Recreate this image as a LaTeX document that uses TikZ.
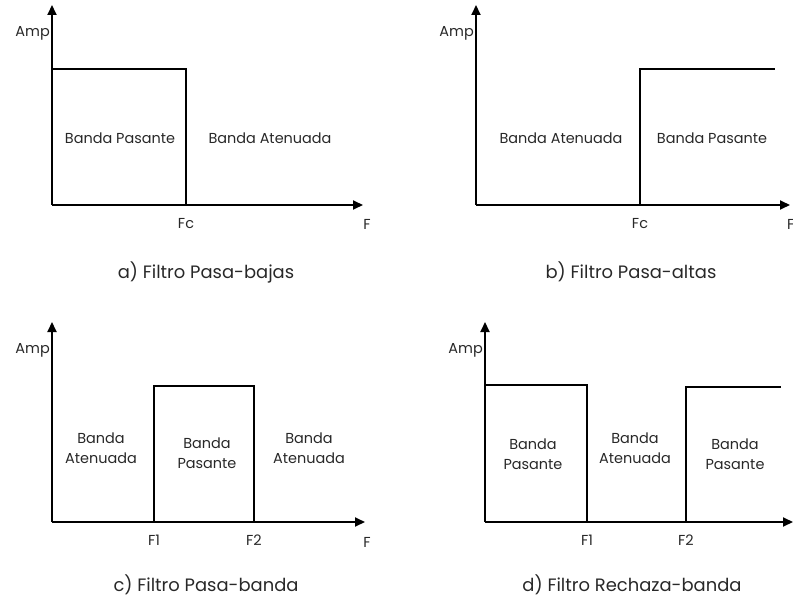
\documentclass[tikz,border=0pt]{standalone}
\usepackage{fontspec}
\setmainfont{Poppins}
\usetikzlibrary{arrows.meta,positioning}
\definecolor{txtgray}{RGB}{40,40,40}
\tikzset{
  axis/.style={-{Triangle[length=10bp,width=9bp]}, line width=1.9bp},
  resp/.style={line width=1.9bp, line join=miter},
  lbl/.style={font=\fontsize{14.5}{20.5}\selectfont, text=txtgray, align=center, inner sep=0pt},
  captxt/.style={font=\fontsize{18}{22}\selectfont, text=txtgray, inner sep=0pt},
}

\begin{document}
\begin{tikzpicture}[x=1bp, y=-1bp]
  \useasboundingbox (0,0) rectangle (793,600);

  % a) pasa-bajas
  \coordinate (oa) at (52,205);
  \coordinate (ya) at (52,5);
  \coordinate (xa) at (363,205);
  \coordinate (fca) at (186,205);
  \draw[axis] (oa) -- (ya);
  \draw[axis] (oa) -- (xa);
  \draw[resp] (52,69) -| (fca);
  \node[lbl, anchor=east] (ampa) at (50,33) {Amp};
  \node[lbl, below=13bp of fca] (fclbla) {Fc};
  \node[lbl] (fa) at (367,224) {F};
  \node[lbl] (pasa) at (120,138) {Banda Pasante};
  \node[lbl] (atea) at (270,138) {Banda Atenuada};
  \node[captxt] (capa) at (206,272) {a) Filtro Pasa-bajas};

  % b) pasa-altas
  \coordinate (ob) at (476,205);
  \coordinate (yb) at (476,5);
  \coordinate (xb) at (790,205);
  \coordinate (fcb) at (640,205);
  \draw[axis] (ob) -- (yb);
  \draw[axis] (ob) -- (xb);
  \draw[resp] (fcb) |- (775,69);
  \node[lbl, anchor=east] (ampb) at (474,33) {Amp};
  \node[lbl, below=13bp of fcb] (fclblb) {Fc};
  \node[lbl, anchor=west] (fb) at (787,224) {F};
  \node[lbl] (ateb) at (561,138) {Banda Atenuada};
  \node[lbl] (pasb) at (712,138) {Banda Pasante};
  \node[captxt] (capb) at (631,272) {b) Filtro Pasa-altas};

  % c) pasa-banda
  \coordinate (oc) at (52,522);
  \coordinate (yc) at (52,322);
  \coordinate (xc) at (365,522);
  \coordinate (f1c) at (154,522);
  \coordinate (f2c) at (254,522);
  \draw[axis] (oc) -- (yc);
  \draw[axis] (oc) -- (xc);
  \draw[resp] (f1c) |- (254,386) -- (f2c);
  \node[lbl, anchor=east] (ampc) at (50,350) {Amp};
  \node[lbl, below=13bp of f1c] (f1lblc) {F1};
  \node[lbl, below=13bp of f2c] (f2lblc) {F2};
  \node[lbl] (fc) at (367,542) {F};
  \node[lbl] (ate1c) at (101,448) {Banda\\Atenuada};
  \node[lbl] (pasc) at (207,453) {Banda\\Pasante};
  \node[lbl] (ate2c) at (309,448) {Banda\\Atenuada};
  \node[captxt] (capc) at (206,585) {c) Filtro Pasa-banda};

  % d) rechaza-banda
  \coordinate (od) at (485,522);
  \coordinate (yd) at (485,322);
  \coordinate (xd) at (793,522);
  \coordinate (f1d) at (587,522);
  \coordinate (f2d) at (686,522);
  \draw[axis] (od) -- (yd);
  \draw[axis] (od) -- (xd);
  \draw[resp] (485,385) -| (f1d);
  \draw[resp] (f2d) |- (781,387);
  \node[lbl, anchor=east] (ampd) at (483,350) {Amp};
  \node[lbl, below=13bp of f1d] (f1lbld) {F1};
  \node[lbl, below=13bp of f2d] (f2lbld) {F2};
  \node[lbl] (pas1d) at (533,454) {Banda\\Pasante};
  \node[lbl] (ated) at (635,448) {Banda\\Atenuada};
  \node[lbl] (pas2d) at (735,454) {Banda\\Pasante};
  \node[captxt] (capd) at (632,585) {d) Filtro Rechaza-banda};
\end{tikzpicture}
\end{document}
